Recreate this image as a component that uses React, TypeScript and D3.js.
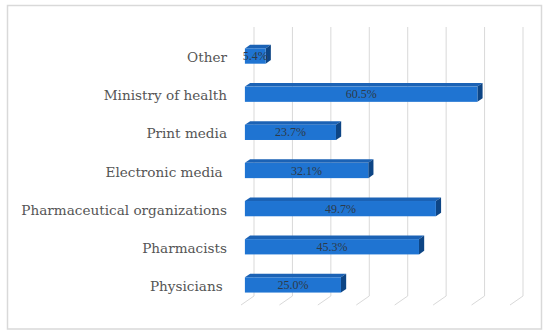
import React, { useEffect, useRef } from 'react';
import * as d3 from 'd3';

// categories from top to bottom, as drawn
const categories = [
  'Other',
  'Ministry of health',
  'Print media',
  'Electronic media ',
  'Pharmaceutical organizations',
  'Pharmacists',
  'Physicians ',
];
const percentages = [5.4, 60.5, 23.7, 32.1, 49.7, 45.3, 25.0];
const gridTicks = [0, 10, 20, 30, 40, 50, 60, 70];

export default function App() {
  const svgRef = useRef<SVGSVGElement>(null);

  useEffect(() => {
    if (!svgRef.current) return;
    const W = 550;
    const H = 335;

    const svg = d3.select(svgRef.current);
    svg.selectAll('*').remove();
    svg.attr('width', W).attr('height', H);

    svg.append('rect')
      .attr('width', W).attr('height', H)
      .attr('fill', '#ffffff');

    // outer frame
    svg.append('rect')
      .attr('x', 7.5).attr('y', 5.5)
      .attr('width', 534).attr('height', 323.5)
      .attr('fill', 'none')
      .attr('stroke', '#d9d9d9')
      .attr('stroke-width', 1.5);

    // full depth offset of the 3D box (front -> back)
    const depthX = 13;
    const depthY = -9;
    const wallTop = 27;
    const floorBack = 296;

    // x on the back wall
    const x = d3.scaleLinear().domain([0, 70]).range([254, 523]);

    const y = d3.scaleBand<string>()
      .domain(categories)
      .range([37, 304])
      .paddingInner(0.6)
      .paddingOuter(0.3);

    // back wall gridlines
    const grid = svg.append('g')
      .attr('stroke', '#d9d9d9')
      .attr('stroke-width', 1)
      .attr('fill', 'none');

    grid.selectAll('line.wall')
      .data(gridTicks)
      .enter()
      .append('line')
      .attr('class', 'wall')
      .attr('x1', d => x(d)).attr('x2', d => x(d))
      .attr('y1', wallTop).attr('y2', floorBack);

    // floor lines
    grid.selectAll('line.floor')
      .data(gridTicks)
      .enter()
      .append('line')
      .attr('class', 'floor')
      .attr('x1', d => x(d) - depthX).attr('y1', floorBack - depthY)
      .attr('x2', d => x(d)).attr('y2', floorBack);

    // bars sit between 30% and 70% of depth
    const fx = -depthX * 0.7;
    const dx = depthX * 0.4;
    const dy = depthY * 0.4;

    const rows = categories.map((c, i) => ({ cat: c, value: percentages[i] }));

    const bars = svg.selectAll('g.bar')
      .data(rows)
      .enter()
      .append('g')
      .attr('class', 'bar');

    const x0 = x(0) + fx;
    const bw = y.bandwidth();

    // top face
    bars.append('path')
      .attr('fill', '#1b62b5')
      .attr('d', d => {
        const yt = y(d.cat)!;
        const x1 = x(d.value) + fx;
        return `M${x0},${yt}L${x1},${yt}L${x1 + dx},${yt + dy}L${x0 + dx},${yt + dy}Z`;
      });

    // side face
    bars.append('path')
      .attr('fill', '#0d4585')
      .attr('d', d => {
        const yt = y(d.cat)!;
        const x1 = x(d.value) + fx;
        return `M${x1},${yt}L${x1 + dx},${yt + dy}L${x1 + dx},${yt + dy + bw}L${x1},${yt + bw}Z`;
      });

    // front face
    bars.append('rect')
      .attr('fill', '#1f74d2')
      .attr('x', x0)
      .attr('y', d => y(d.cat)!)
      .attr('width', d => x(d.value) - x(0))
      .attr('height', bw);

    // data labels
    bars.append('text')
      .attr('x', d => (x0 + x(d.value) + fx) / 2)
      .attr('y', d => y(d.cat)! + bw / 2 + 4)
      .attr('text-anchor', 'middle')
      .attr('font-family', '"Liberation Serif", serif')
      .attr('font-size', 12)
      .attr('fill', '#2e3a48')
      .text(d => d.value.toFixed(1) + '%');

    // category labels
    svg.append('g')
      .selectAll('text')
      .data(categories)
      .enter()
      .append('text')
      .attr('x', 227)
      .attr('y', d => y(d)! + bw / 2 + 6)
      .attr('text-anchor', 'end')
      .attr('font-family', '"DejaVu Serif", serif')
      .attr('font-size', 13.6)
      .attr('fill', '#555555')
      .style('white-space', 'pre')
      .text(d => d);
  }, []);

  return (
    <svg
      ref={svgRef}
      style={{ position: 'absolute', left: 0, top: 0, display: 'block' }}
    />
  );
}
